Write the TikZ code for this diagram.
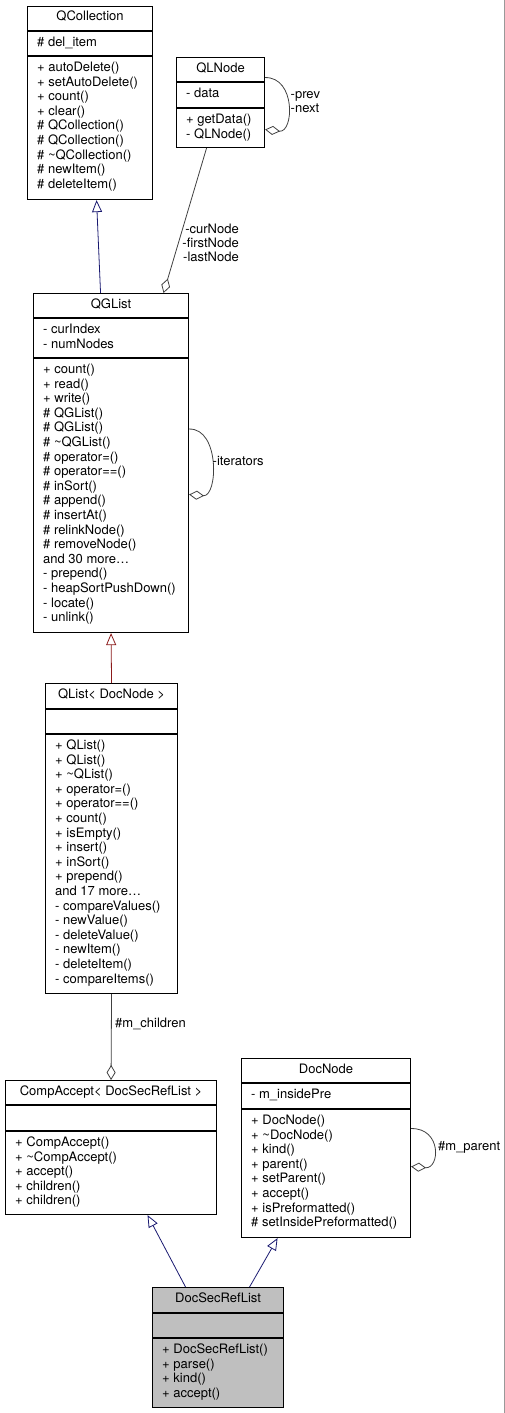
\documentclass[tikz,border=0pt]{standalone}
\usepackage{fontspec}
\setmainfont{TeX Gyre Heros}
\usetikzlibrary{arrows.meta}
\definecolor{navy}{HTML}{191970}
\definecolor{brick}{HTML}{8B1A1A}
\definecolor{dgray}{HTML}{404040}
\definecolor{hilite}{HTML}{BFBFBF}
\newcommand{\memlist}[1]{\begin{tabular}[t]{@{}l@{}}#1\end{tabular}}
\newcommand{\rmemlist}[1]{\begin{tabular}[t]{@{}r@{}}#1\end{tabular}}

\begin{document}
\begin{tikzpicture}[x=1pt, y=-1pt,
  font=\fontsize{13}{14.6}\selectfont,
  cls/.style={rectangle, draw, line width=1.1pt, anchor=north west, inner sep=0pt},
  ttl/.style={anchor=base, inner sep=0pt},
  mem/.style={anchor=base west, inner sep=0pt},
  divider/.style={line width=1.1pt},
  lbl/.style={inner sep=0pt, font=\fontsize{13}{14}\selectfont},
  inh/.style={draw=navy, line width=0.8pt, -{Triangle[open, length=12pt, width=10pt]}},
  agg/.style={draw=dgray, line width=0.8pt, -{Diamond[open, length=15pt, width=9pt]}}]
  \useasboundingbox (0,0) rectangle (505,1413);

  % QCollection
  \node[cls, minimum width=125pt, minimum height=193pt] (qcoll) at (27,6) {};
  \node[ttl] (qcolltitle) at ([yshift=-15pt]qcoll.north) {QCollection};
  \draw[divider] ([yshift=-25pt]qcoll.north west) -- ([yshift=-25pt]qcoll.north east);
  \draw[divider] ([yshift=-50pt]qcoll.north west) -- ([yshift=-50pt]qcoll.north east);
  \node[mem] (qcollattr) at ([shift={(10pt,-40.5pt)}]qcoll.north west) {\memlist{\# del\_item}};
  \node[mem] (qcollops) at ([shift={(10pt,-65.5pt)}]qcoll.north west) {\memlist{+ autoDelete()\\
    + setAutoDelete()\\ + count()\\ + clear()\\ \# QCollection()\\ \# QCollection()\\
    \# \textasciitilde QCollection()\\ \# newItem()\\ \# deleteItem()}};

  % QLNode
  \node[cls, minimum width=88pt, minimum height=90pt] (qlnode) at (176,57) {};
  \node[ttl] (qlnodetitle) at ([yshift=-15pt]qlnode.north) {QLNode};
  \draw[divider] ([yshift=-25pt]qlnode.north west) -- ([yshift=-25pt]qlnode.north east);
  \draw[divider] ([yshift=-51pt]qlnode.north west) -- ([yshift=-51pt]qlnode.north east);
  \node[mem] (qlnodeattr) at ([shift={(10pt,-40.5pt)}]qlnode.north west) {\memlist{- data}};
  \node[mem] (qlnodeops) at ([shift={(10pt,-66.5pt)}]qlnode.north west) {\memlist{+ getData()\\ - QLNode()}};

  % QGList
  \node[cls, minimum width=155pt, minimum height=339pt] (qglist) at (33,293) {};
  \node[ttl] (qglisttitle) at ([yshift=-15pt]qglist.north) {QGList};
  \draw[divider] ([yshift=-25pt]qglist.north west) -- ([yshift=-25pt]qglist.north east);
  \draw[divider] ([yshift=-65pt]qglist.north west) -- ([yshift=-65pt]qglist.north east);
  \node[mem] (qglistattr) at ([shift={(10pt,-40.5pt)}]qglist.north west) {\memlist{- curIndex\\ - numNodes}};
  \node[mem] (qglistops) at ([shift={(10pt,-80.5pt)}]qglist.north west) {\memlist{+ count()\\
    + read()\\ + write()\\ \# QGList()\\ \# QGList()\\ \# \textasciitilde QGList()\\
    \# operator=()\\ \# operator==()\\ \# inSort()\\ \# append()\\ \# insertAt()\\
    \# relinkNode()\\ \# removeNode()\\ and 30 more\ldots\\ - prepend()\\
    - heapSortPushDown()\\ - locate()\\ - unlink()}};

  % QList< DocNode >
  \node[cls, minimum width=132pt, minimum height=310pt] (qlist) at (45,683) {};
  \node[ttl] (qlisttitle) at ([yshift=-15pt]qlist.north) {QList< DocNode >};
  \draw[divider] ([yshift=-26pt]qlist.north west) -- ([yshift=-26pt]qlist.north east);
  \draw[divider] ([yshift=-51pt]qlist.north west) -- ([yshift=-51pt]qlist.north east);
  \node[mem] (qlistops) at ([shift={(10pt,-66.5pt)}]qlist.north west) {\memlist{+ QList()\\
    + QList()\\ + \textasciitilde QList()\\ + operator=()\\ + operator==()\\ + count()\\
    + isEmpty()\\ + insert()\\ + inSort()\\ + prepend()\\ and 17 more\ldots\\
    - compareValues()\\ - newValue()\\ - deleteValue()\\ - newItem()\\ - deleteItem()\\
    - compareItems()}};

  % CompAccept< DocSecRefList >
  \node[cls, minimum width=211pt, minimum height=134pt] (compacc) at (5,1080) {};
  \node[ttl] (compacctitle) at ([yshift=-15pt]compacc.north) {CompAccept< DocSecRefList >};
  \draw[divider] ([yshift=-25pt]compacc.north west) -- ([yshift=-25pt]compacc.north east);
  \draw[divider] ([yshift=-51pt]compacc.north west) -- ([yshift=-51pt]compacc.north east);
  \node[mem] (compaccops) at ([shift={(10pt,-66.5pt)}]compacc.north west) {\memlist{+ CompAccept()\\
    + \textasciitilde CompAccept()\\ + accept()\\ + children()\\ + children()}};

  % DocNode
  \node[cls, minimum width=169pt, minimum height=179pt] (docnode) at (241,1058) {};
  \node[ttl] (docnodetitle) at ([yshift=-15pt]docnode.north) {DocNode};
  \draw[divider] ([yshift=-25pt]docnode.north west) -- ([yshift=-25pt]docnode.north east);
  \draw[divider] ([yshift=-51pt]docnode.north west) -- ([yshift=-51pt]docnode.north east);
  \node[mem] (docnodeattr) at ([shift={(10pt,-40.5pt)}]docnode.north west) {\memlist{- m\_insidePre}};
  \node[mem] (docnodeops) at ([shift={(10pt,-66.5pt)}]docnode.north west) {\memlist{+ DocNode()\\
    + \textasciitilde DocNode()\\ + kind()\\ + parent()\\ + setParent()\\ + accept()\\
    + isPreformatted()\\ \# setInsidePreformatted()}};

  % DocSecRefList
  \node[cls, fill=hilite, minimum width=131pt, minimum height=120pt] (dsrl) at (152,1287) {};
  \node[ttl] (dsrltitle) at ([yshift=-15pt]dsrl.north) {DocSecRefList};
  \draw[divider] ([yshift=-26pt]dsrl.north west) -- ([yshift=-26pt]dsrl.north east);
  \draw[divider] ([yshift=-51pt]dsrl.north west) -- ([yshift=-51pt]dsrl.north east);
  \node[mem] (dsrlops) at ([shift={(10pt,-66.5pt)}]dsrl.north west) {\memlist{+ DocSecRefList()\\
    + parse()\\ + kind()\\ + accept()}};

  % relations
  \draw[inh] ([xshift=-10.5pt]qglist.north) -- ([xshift=6.5pt]qcoll.south);
  \draw[agg] ([xshift=-14pt]qlnode.south) -- ([xshift=52.5pt]qglist.north);
  \node[lbl, anchor=base east] (nodelbl) at (239,233.7) {\rmemlist{-curNode\\ -firstNode\\ -lastNode}};
  \draw[agg] ([yshift=25pt]qlnode.east) .. controls (296,77) and (294,133) .. ([yshift=-27pt]qlnode.east);
  \node[lbl, anchor=base west] (prevlbl) at (290.5,98.5) {\memlist{-prev\\ -next}};
  \draw[agg] ([yshift=34pt]qglist.east) .. controls (220,428) and (218,497) .. ([yshift=-31.5pt]qglist.east);
  \node[lbl, anchor=base west] (iterlbl) at (212.5,465.7) {-iterators};
  \draw[inh, draw=brick] (qlist.north) -- (qglist.south);
  \draw[agg] (qlist.south) -- (compacc.north);
  \node[lbl, anchor=base west] (childlbl) at (115,1027.7) {\#m\_children};
  \draw[inh] ([xshift=-32.5pt]dsrl.north) -- ([xshift=36.5pt]compacc.south);
  \draw[inh] ([xshift=31.5pt]dsrl.north) -- ([xshift=-48.5pt]docnode.south);
  \draw[agg] ([yshift=19.5pt]docnode.east) .. controls (442,1128) and (440,1169) .. ([yshift=-18.5pt]docnode.east);
  \node[lbl, anchor=base west] (parentlbl) at (438,1150.7) {\#m\_parent};

  % page edge
  \draw[gray!80, line width=1.5pt] (504.5,0) -- (504.5,1413);
\end{tikzpicture}
\end{document}
